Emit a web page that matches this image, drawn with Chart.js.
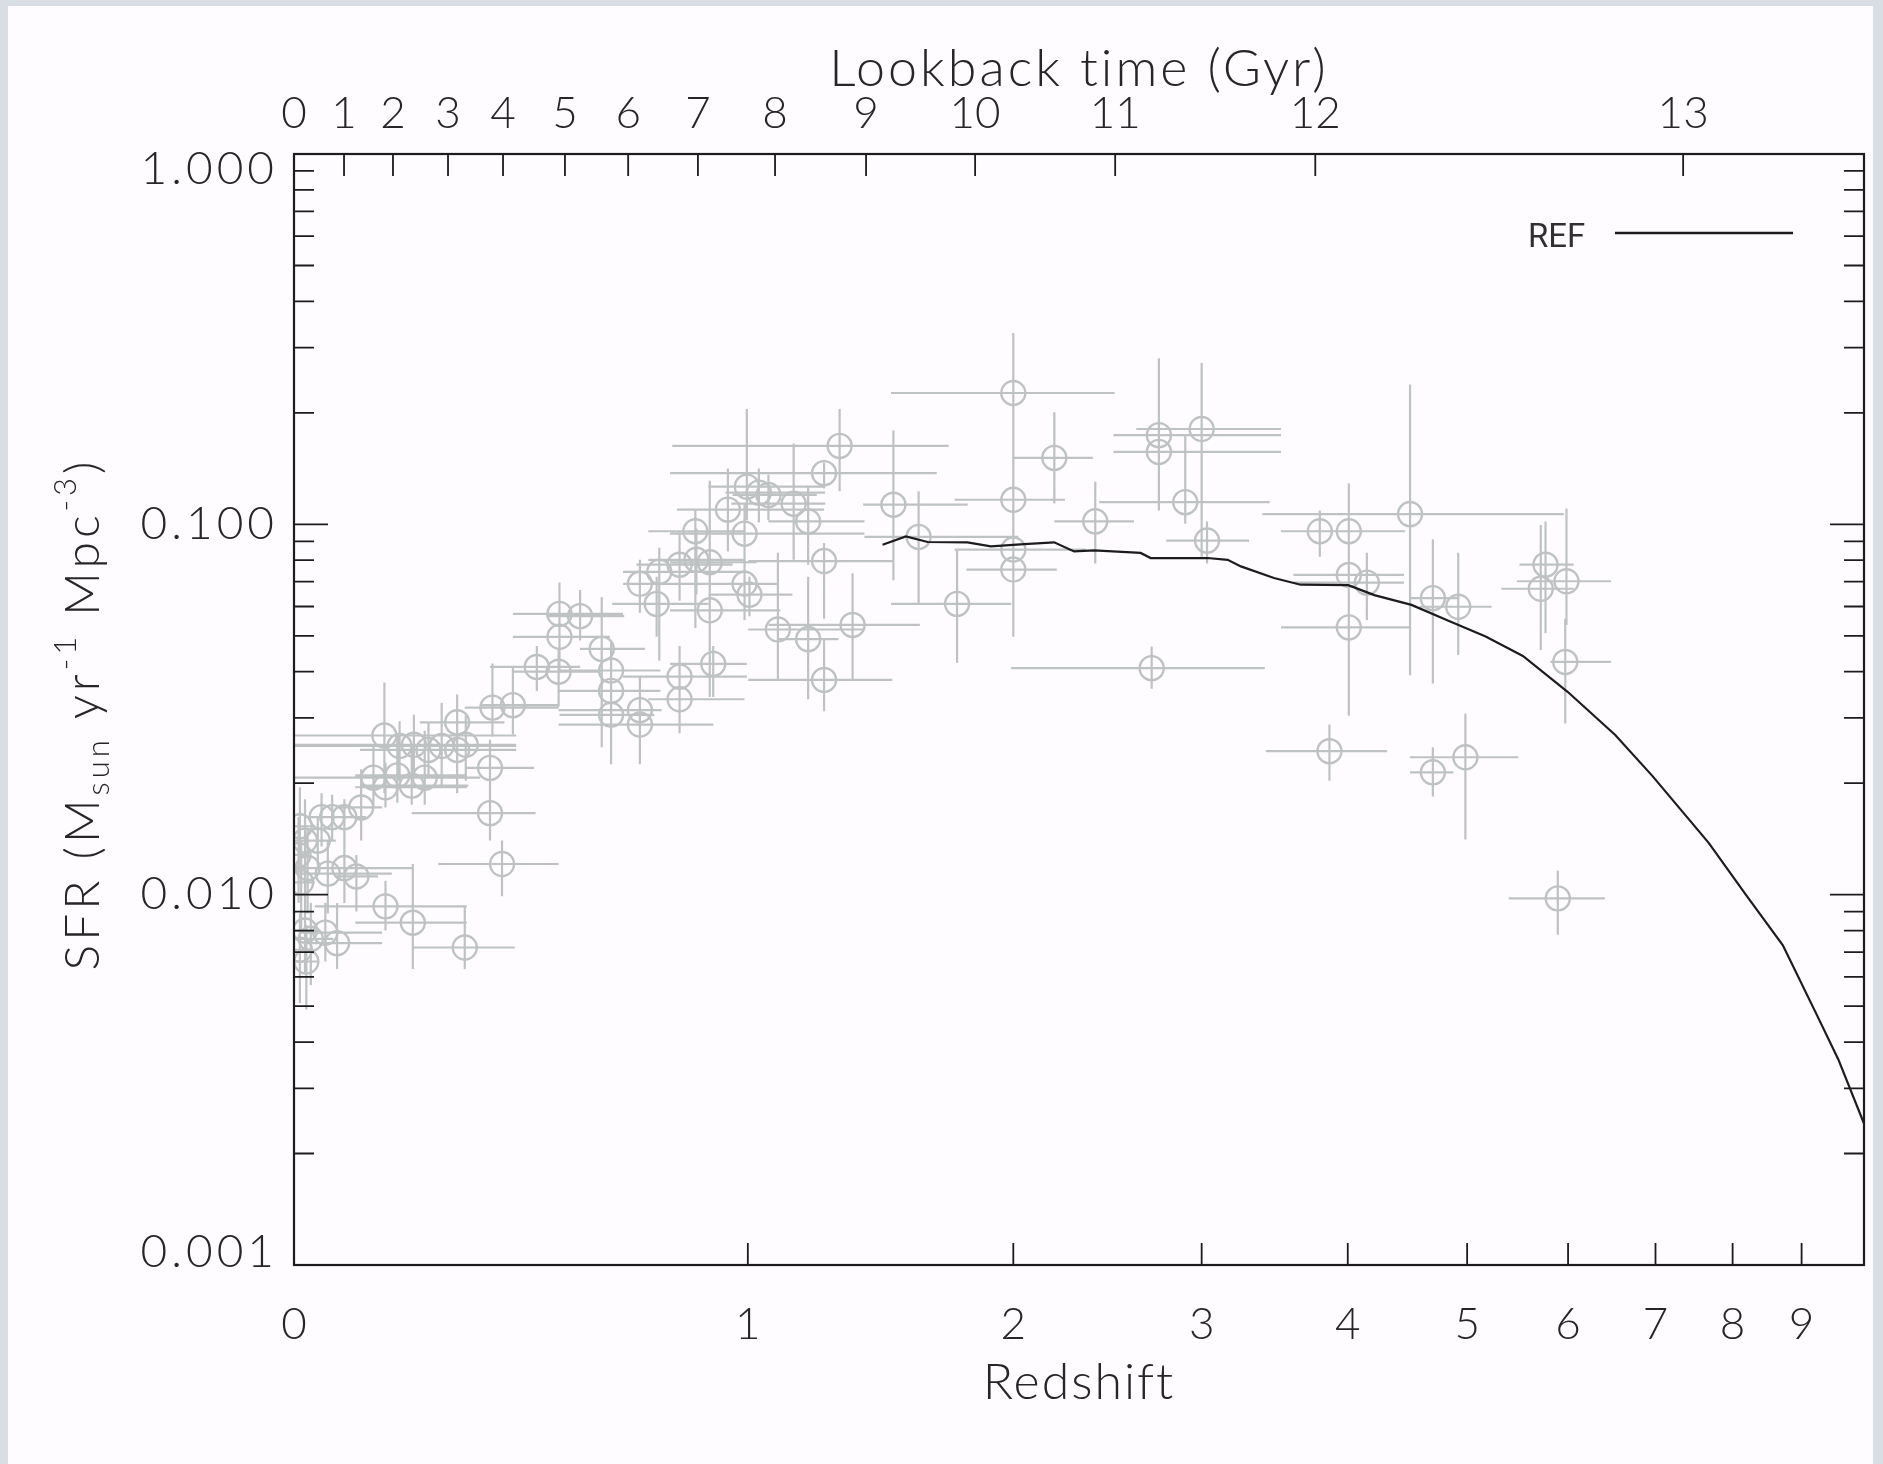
<!DOCTYPE html>
<html>
<head>
<meta charset="utf-8">
<title>Cosmic SFR density</title>
<script src="https://cdn.jsdelivr.net/npm/chart.js@4.4.1/dist/chart.umd.min.js"></script>
<style>
    html, body { margin: 0; padding: 0; width: 1883px; height: 1464px; overflow: hidden; background: #d8dee3; }
    #panel { position: absolute; left: 8px; top: 6px; width: 1865px; height: 1458px; background: #fefcfe; }
    #sfrChart { position: absolute; left: 0; top: 0; }
</style>
</head>
<body>
<div id="panel"></div>
<canvas id="sfrChart" width="1883" height="1464"></canvas>
<script>
// Star formation rate density vs redshift, with a lookback-time axis on top.
// The x axis is log(1+z); all values below are in z and Msun/yr/Mpc^3.

// Bottom axis
const zTicks = [0, 1, 2, 3, 4, 5, 6, 7, 8, 9];
const zMax = 10;

// Top axis: lookback time (Gyr) and the redshift where each tick sits
const lookbackLabels = ['0', '1', '2', '3', '4', '5', '6', '7', '8', '9', '10', '11', '12', '13'];
const lookbackZ = [0, 0.0794, 0.1632, 0.2652, 0.3761, 0.5126, 0.6659, 0.8532, 1.0849, 1.3958, 1.830, 2.505, 3.758, 7.345];

// Left axis decades (minor ticks at 2..9 of each)
const yDecades = [0.001, 0.01, 0.1, 1];
const yMinor = [2, 3, 4, 5, 6, 7, 8, 9];

// Observed points: redshift with its range, SFR with its range
const obsZ = [
    0.009, 0.017, 0.007, 0.021, 0.011, 0.017, 0.026, 0.009, 0.019,
    0.043, 0.060, 0.080, 0.108, 0.037, 0.053, 0.080, 0.100, 0.049, 0.068,
    0.150, 0.199, 0.298, 0.374, 0.349, 0.349, 0.129, 0.150, 0.171, 0.197, 0.221,
    0.148, 0.175, 0.201, 0.228, 0.253, 0.283, 0.300, 0.283, 0.354, 0.397,
    0.449, 0.498, 0.500, 0.548, 0.500, 0.600, 0.623, 0.623, 0.623, 0.696,
    0.696, 0.696, 0.747, 0.740, 0.802, 0.802, 0.802, 0.849, 0.887, 0.846,
    0.887, 0.897, 0.990, 0.990, 1.005, 0.940, 0.997, 1.034, 1.064, 1.145,
    1.193, 1.247, 1.301, 1.247, 1.094, 1.193, 1.347, 1.247, 1.498, 1.596,
    1.753, 2.0, 2.0, 2.0, 2.0, 2.194, 2.400, 2.747, 2.747, 3.0,
    2.901, 3.033, 2.706, 3.791, 4.008, 4.008, 4.148, 4.008, 4.499, 4.694,
    4.919, 5.763, 5.714, 5.983, 5.970, 3.862, 4.694, 4.984, 5.891
];
const obsZLo = [
    0, 0, 0, 0, 0, 0, 0, 0, 0,
    0.019, 0.032, 0.047, 0.070, 0.009, 0.009, 0.009, 0.066, 0.009, 0.019,
    0.032, 0.098, 0.197, 0.246, 0.197, 0.298, 0, 0.098, 0.098, 0.106, 0.106,
    0, 0, 0, 0.106, 0.127, 0.169, 0.190, 0.212, 0.298, 0.329,
    0.349, 0.397, 0.397, 0.470, 0.397, 0.548, 0.500, 0.500, 0.500, 0.498,
    0.498, 0.653, 0.653, 0.626, 0.653, 0.718, 0.687, 0.718, 0.776, 0.718,
    0.776, 0.776, 0.776, 0.776, 0.883, 0.795, 0.883, 0.933, 0.954, 0.950,
    1.064, 0.776, 0.782, 1.001, 1.001, 1.094, 1.064, 1.001, 1.385, 1.390,
    1.489, 1.489, 1.743, 1.743, 1.793, 2.001, 2.194, 2.496, 2.496, 2.620,
    2.420, 2.789, 1.990, 3.515, 3.515, 3.602, 3.602, 3.515, 3.388, 4.508,
    4.580, 5.499, 5.322, 5.475, 5.814, 3.412, 4.498, 4.498, 5.393
];
const obsZHi = [
    0.032, 0.043, 0.024, 0.047, 0.032, 0.039, 0.062, 0.028, 0.037,
    0.106, 0.096, 0.116, 0.144, 0.066, 0.161, 0.197, 0.137, 0.144, 0.144,
    0.302, 0.302, 0.401, 0.498, 0.446, 0.443, 0.212, 0.302, 0.302, 0.305, 0.329,
    0.404, 0.404, 0.404, 0.404, 0.404, 0.404, 0.404, 0.379, 0.498, 0.498,
    0.548, 0.597, 0.653, 0.656, 0.620, 0.709, 0.750, 0.750, 0.734, 0.753,
    0.897, 0.897, 0.990, 0.883, 0.997, 0.990, 0.954, 0.990, 1.027, 0.990,
    1.102, 0.997, 1.390, 1.094, 1.141, 1.247, 1.251, 1.251, 1.222, 1.251,
    1.390, 1.669, 1.718, 1.494, 1.390, 1.297, 1.601, 1.494, 1.798, 2.023,
    1.990, 2.502, 2.247, 2.350, 2.206, 2.388, 2.607, 3.515, 3.515, 3.515,
    3.437, 3.300, 3.405, 4.418, 4.458, 4.448, 4.448, 4.498, 5.955, 4.930,
    5.229, 6.060, 6.060, 6.474, 6.474, 4.310, 4.875, 5.487, 6.404
];
const obsSfr = [
    0.0153, 0.0140, 0.0128, 0.0118, 0.0108, 0.0080, 0.0076, 0.0071, 0.0066,
    0.0162, 0.0162, 0.0162, 0.0172, 0.0140, 0.0114, 0.0118, 0.0112, 0.0079, 0.0074,
    0.0093, 0.0084, 0.0072, 0.0121, 0.0166, 0.0220, 0.0207, 0.0195, 0.0210, 0.0197, 0.0207,
    0.0269, 0.0252, 0.0254, 0.0246, 0.0252, 0.0246, 0.0254, 0.0292, 0.0320, 0.0325,
    0.0412, 0.0400, 0.0573, 0.0565, 0.0497, 0.0461, 0.0403, 0.0355, 0.0306, 0.0315,
    0.0288, 0.0691, 0.0744, 0.0610, 0.0388, 0.0337, 0.0778, 0.0802, 0.0790, 0.0958,
    0.0586, 0.0420, 0.0944, 0.0691, 0.0646, 0.1096, 0.1264, 0.1218, 0.1200, 0.1137,
    0.1018, 0.1375, 0.1629, 0.0796, 0.0520, 0.0490, 0.0535, 0.0380, 0.1130, 0.0925,
    0.0610, 0.2263, 0.1165, 0.0855, 0.0755, 0.1512, 0.1019, 0.1741, 0.1569, 0.1809,
    0.1148, 0.0904, 0.0409, 0.0958, 0.0958, 0.0730, 0.0696, 0.0527, 0.1066, 0.0632,
    0.0599, 0.0778, 0.0670, 0.0702, 0.0425, 0.0244, 0.0214, 0.0235, 0.00977
];
const obsSfrLo = [
    0.0120, 0.0100, 0.0095, 0.0089, 0.0080, 0.0061, 0.0057, 0.0051, 0.0049,
    0.0135, 0.0140, 0.0138, 0.0140, 0.0120, 0.0089, 0.0095, 0.0090, 0.0066, 0.0063,
    0.0080, 0.0063, 0.0063, 0.0099, 0.0140, 0.0150, 0.0172, 0.0172, 0.0177, 0.0175, 0.0175,
    0.0188, 0.0203, 0.0210, 0.0206, 0.0195, 0.0188, 0.0203, 0.0244, 0.0267, 0.0271,
    0.0355, 0.0322, 0.0461, 0.0486, 0.0397, 0.0250, 0.0294, 0.0273, 0.0225, 0.0225,
    0.0244, 0.0577, 0.0428, 0.0497, 0.0284, 0.0273, 0.0622, 0.0646, 0.0461, 0.0525,
    0.0342, 0.0342, 0.0778, 0.0552, 0.0565, 0.0844, 0.1026, 0.1011, 0.1025, 0.0802,
    0.0778, 0.1250, 0.1228, 0.0556, 0.0380, 0.0337, 0.0378, 0.0313, 0.0706, 0.0610,
    0.0423, 0.1523, 0.0870, 0.0622, 0.0497, 0.1139, 0.0784, 0.1089, 0.1218, 0.0818,
    0.1003, 0.0784, 0.0360, 0.0818, 0.0304, 0.0622, 0.0552, 0.0444, 0.0391, 0.0372,
    0.0444, 0.0509, 0.0458, 0.0535, 0.0290, 0.0203, 0.0184, 0.0141, 0.00779
];
const obsSfrHi = [
    0.0195, 0.0181, 0.0162, 0.0150, 0.0140, 0.0100, 0.0095, 0.0089, 0.0083,
    0.0188, 0.0186, 0.0181, 0.0218, 0.0162, 0.0140, 0.0141, 0.0128, 0.0095, 0.0095,
    0.0109, 0.0121, 0.0093, 0.0140, 0.0218, 0.0262, 0.0254, 0.0227, 0.0273, 0.0254, 0.0277,
    0.0374, 0.0294, 0.0306, 0.0294, 0.0330, 0.0318, 0.0304, 0.0347, 0.0421, 0.0412,
    0.0469, 0.0461, 0.0696, 0.0665, 0.0622, 0.0636, 0.0479, 0.0444, 0.0383, 0.0389,
    0.0355, 0.0802, 0.0865, 0.0722, 0.0469, 0.0397, 0.0938, 0.0973, 0.1312, 0.1096,
    0.0778, 0.0469, 0.1130, 0.0820, 0.0722, 0.1414, 0.2050, 0.1414, 0.1362, 0.1654,
    0.1264, 0.1468, 0.2050, 0.0890, 0.0838, 0.0722, 0.0738, 0.0493, 0.1791, 0.1228,
    0.0855, 0.3286, 0.1641, 0.1130, 0.0973, 0.2006, 0.1303, 0.2809, 0.2053, 0.2728,
    0.1743, 0.1018, 0.0468, 0.1089, 0.1289, 0.0890, 0.0838, 0.0622, 0.2384, 0.0911,
    0.0838, 0.1018, 0.0996, 0.1104, 0.0556, 0.0288, 0.0250, 0.0308, 0.0116
];

// REF model curve
const refZ = [
    1.457, 1.546, 1.632, 1.797, 1.899, 2.050, 2.193, 2.292, 2.394, 2.644,
    2.700, 3.035, 3.162, 3.247, 3.467, 3.653, 4.004, 4.207, 4.511, 4.831,
    5.172, 5.533, 5.995, 6.523, 6.964, 7.677, 8.183, 8.718, 9.279, 9.577, 10.0
];
const refSfr = [
    0.0881, 0.0928, 0.0896, 0.0894, 0.0872, 0.0884, 0.0894, 0.0845, 0.0851, 0.0837,
    0.0811, 0.0811, 0.0802, 0.0770, 0.0716, 0.0687, 0.0685, 0.0644, 0.0606, 0.0549,
    0.0498, 0.0441, 0.0353, 0.0270, 0.0209, 0.0138, 0.0100, 0.0073, 0.00457, 0.00359, 0.00241
];

const obsColor = '#bec2c2';
const inkColor = '#1c1c1c';
const textColor = '#262626';
const tickFont = { family: 'Lato', size: 44, weight: 300 };

const lg1p = z => Math.log10(1 + z);

function yTickList() {
    const out = [];
    yDecades.forEach((d, i) => {
        out.push({ value: d, major: true });
        if (i < yDecades.length - 1) yMinor.forEach(m => out.push({ value: d * m, major: false }));
    });
    return out;
}

// Error bars go under the symbols
const errorBars = {
    id: 'errorBars',
    beforeDatasetsDraw(chart) {
        const { ctx, chartArea: a, scales: { x, y } } = chart;
        ctx.save();
        ctx.beginPath();
        ctx.rect(a.left, a.top, a.right - a.left, a.bottom - a.top);
        ctx.clip();
        ctx.strokeStyle = obsColor;
        ctx.lineWidth = 2.2;
        ctx.beginPath();
        obsZ.forEach((z, i) => {
            const px = x.getPixelForValue(lg1p(z));
            const py = y.getPixelForValue(obsSfr[i]);
            ctx.moveTo(x.getPixelForValue(lg1p(obsZLo[i])), py);
            ctx.lineTo(x.getPixelForValue(lg1p(obsZHi[i])), py);
            ctx.moveTo(px, y.getPixelForValue(obsSfrHi[i]));
            ctx.lineTo(px, y.getPixelForValue(obsSfrLo[i]));
        });
        ctx.stroke();
        ctx.restore();
    }
};

// Box, inward ticks, y labels, titles and legend
const frame = {
    id: 'frame',
    afterDatasetsDraw(chart) {
        const { ctx, chartArea: a, scales } = chart;
        ctx.save();
        ctx.strokeStyle = inkColor;
        ctx.lineWidth = 2.2;
        ctx.strokeRect(a.left, a.top, a.right - a.left, a.bottom - a.top);

        ctx.lineWidth = 1.8;
        ctx.beginPath();
        scales.x.ticks.forEach(t => {
            const px = scales.x.getPixelForValue(t.value);
            if (px <= a.left + 1) return;
            ctx.moveTo(px, a.bottom);
            ctx.lineTo(px, a.bottom - 22);
        });
        scales.x2.ticks.forEach(t => {
            const px = scales.x2.getPixelForValue(t.value);
            if (px <= a.left + 1) return;
            ctx.moveTo(px, a.top);
            ctx.lineTo(px, a.top + 22);
        });
        scales.y.ticks.forEach(t => {
            const py = scales.y.getPixelForValue(t.value);
            if (py <= a.top + 1 || py >= a.bottom - 1) return;
            const len = t.major ? 34 : 20;
            ctx.moveTo(a.left, py);
            ctx.lineTo(a.left + len, py);
            ctx.moveTo(a.right, py);
            ctx.lineTo(a.right - len, py);
        });
        ctx.stroke();
        ctx.restore();
    },
    afterDraw(chart) {
        const { ctx, chartArea: a, scales } = chart;
        const cx = (a.left + a.right) / 2;
        ctx.save();
        ctx.fillStyle = textColor;

        // decade labels, end ones kept inside the axis span
        ctx.font = '300 46px Lato';
        ctx.letterSpacing = '4px';
        ctx.textAlign = 'right';
        ctx.textBaseline = 'middle';
        scales.y.ticks.filter(t => t.major).forEach(t => {
            const py = Math.min(Math.max(scales.y.getPixelForValue(t.value), a.top + 15), a.bottom - 13);
            ctx.fillText(t.value.toFixed(3), a.left - 16, py);
        });

        ctx.textAlign = 'center';
        ctx.textBaseline = 'alphabetic';
        ctx.font = '300 52px Lato';
        ctx.letterSpacing = '3px';
        ctx.fillText('Lookback time (Gyr)', cx, a.top - 68);
        ctx.font = '300 50px Lato';
        ctx.letterSpacing = '2px';
        ctx.fillText('Redshift', cx, a.bottom + 134);

        // y title with sub/superscripts, rotated
        const parts = [
            { t: 'SFR (M', k: 'n' }, { t: 'sun', k: 'sub' }, { t: ' yr', k: 'n' },
            { t: '-1', k: 'sup' }, { t: ' Mpc', k: 'n' }, { t: '-3', k: 'sup' }, { t: ')', k: 'n' }
        ];
        const fontFor = k => (k === 'n' ? '300 48px Lato' : '300 31px Lato');
        ctx.letterSpacing = '4px';
        let total = 0;
        parts.forEach(p => { ctx.font = fontFor(p.k); p.w = ctx.measureText(p.t).width; total += p.w; });
        ctx.translate(99, a.top + 560);
        ctx.rotate(-Math.PI / 2);
        ctx.textAlign = 'left';
        let xPos = -total / 2;
        parts.forEach(p => {
            ctx.font = fontFor(p.k);
            const dy = p.k === 'sub' ? 10 : p.k === 'sup' ? -23 : 0;
            ctx.fillText(p.t, xPos, dy);
            xPos += p.w;
        });
        ctx.restore();

        // legend
        ctx.save();
        ctx.fillStyle = '#303030';
        ctx.font = '33px Roboto';
        ctx.textAlign = 'left';
        ctx.fillText('REF', a.right - 336, a.top + 93);
        ctx.strokeStyle = inkColor;
        ctx.lineWidth = 2.4;
        ctx.beginPath();
        ctx.moveTo(a.right - 249, a.top + 79);
        ctx.lineTo(a.right - 71, a.top + 79);
        ctx.stroke();
        ctx.restore();
    }
};

const obsPoints = obsZ.map((z, i) => ({ x: lg1p(z), y: obsSfr[i] }));
const refPoints = refZ.map((z, i) => ({ x: lg1p(z), y: refSfr[i] }));

new Chart(document.getElementById('sfrChart'), {
    type: 'scatter',
    data: {
        datasets: [
            {
                type: 'line',
                label: 'REF',
                data: refPoints,
                borderColor: inkColor,
                borderWidth: 2.2,
                pointRadius: 0,
                fill: false,
                tension: 0
            },
            {
                label: 'data',
                data: obsPoints,
                pointStyle: 'circle',
                pointRadius: 12,
                pointBorderWidth: 2.4,
                borderColor: obsColor,
                backgroundColor: 'rgba(0,0,0,0)'
            }
        ]
    },
    options: {
        responsive: false,
        animation: false,
        events: [],
        layout: { padding: { left: 0, right: 19, top: 0, bottom: 0 } },
        plugins: { legend: { display: false }, tooltip: { enabled: false } },
        scales: {
            x: {
                type: 'linear',
                position: 'bottom',
                min: 0,
                max: lg1p(zMax),
                grid: { display: false, drawTicks: false },
                border: { display: false },
                afterBuildTicks(scale) { scale.ticks = zTicks.map(z => ({ value: lg1p(z) })); },
                afterFit(scale) { scale.height = 199; },
                ticks: {
                    autoSkip: false,
                    maxRotation: 0,
                    padding: 33,
                    color: textColor,
                    font: tickFont,
                    callback: (v, i) => String(zTicks[i])
                }
            },
            x2: {
                type: 'linear',
                axis: 'x',
                position: 'top',
                min: 0,
                max: lg1p(zMax),
                grid: { display: false, drawTicks: false },
                border: { display: false },
                afterBuildTicks(scale) { scale.ticks = lookbackZ.map(z => ({ value: lg1p(z) })); },
                afterFit(scale) { scale.height = 154; },
                ticks: {
                    autoSkip: false,
                    maxRotation: 0,
                    padding: 14,
                    color: textColor,
                    font: tickFont,
                    callback: (v, i) => lookbackLabels[i]
                }
            },
            y: {
                type: 'logarithmic',
                position: 'left',
                min: 0.001,
                max: 1,
                grid: { display: false, drawTicks: false },
                border: { display: false },
                afterBuildTicks(scale) { scale.ticks = yTickList(); },
                afterFit(scale) { scale.width = 294; },
                ticks: { display: false, autoSkip: false }
            }
        }
    },
    plugins: [errorBars, frame]
});
</script>
</body>
</html>
